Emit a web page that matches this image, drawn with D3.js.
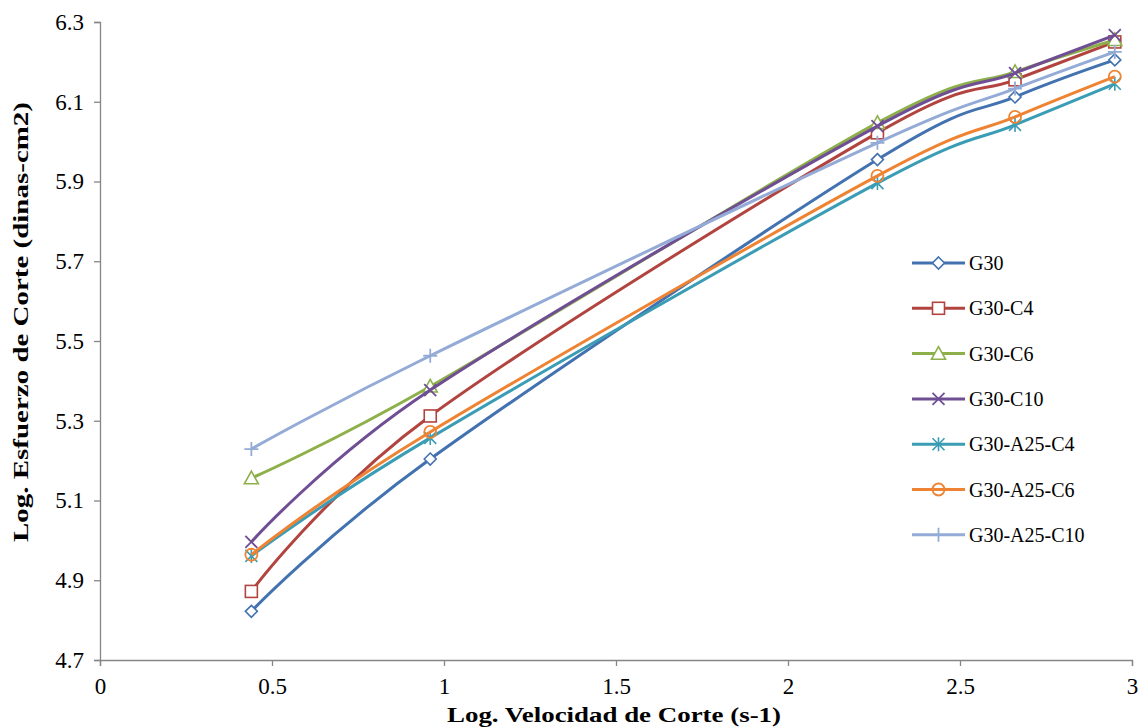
<!DOCTYPE html>
<html>
<head>
<meta charset="utf-8">
<script src="https://cdn.jsdelivr.net/npm/d3@7"></script>
<style>
  body { margin: 0; background: #fff; }
</style>
</head>
<body>
<div id="chart"></div>
<script>
// datos
var xVals = [0.44, 0.96, 2.26, 2.66, 2.95];
var g30      = [4.822, 5.204, 5.955, 6.112, 6.205];
var g30c4    = [4.872, 5.312, 6.022, 6.155, 6.250];
var g30c6    = [5.156, 5.386, 6.047, 6.175, 6.255];
var g30c10   = [4.996, 5.377, 6.039, 6.172, 6.267];
var g30a25c4 = [4.961, 5.257, 5.896, 6.042, 6.145];
var g30a25c6 = [4.964, 5.272, 5.914, 6.062, 6.163];
var g30a25c10 = [5.229, 5.463, 5.997, 6.133, 6.225];
var seriesNames = ["G30", "G30-C4", "G30-C6", "G30-C10", "G30-A25-C4", "G30-A25-C6", "G30-A25-C10"];
var xTicks = [0, 0.5, 1, 1.5, 2, 2.5, 3];
var yTicks = [4.7, 4.9, 5.1, 5.3, 5.5, 5.7, 5.9, 6.1, 6.3];

var colors = ["#4372B0", "#B2443F", "#8DB04A", "#6F4E94", "#3A9CB5", "#EE8433", "#93ABD6"];
var markers = ["diamond", "square", "triangle", "x", "star", "circle", "plus"];
var allVals = [g30, g30c4, g30c6, g30c10, g30a25c4, g30a25c6, g30a25c10];
var FONT = "'Liberation Serif', 'Times New Roman', serif";

var width = 1138, height = 727;
var svg = d3.select("#chart").append("svg")
    .attr("width", width).attr("height", height)
    .attr("font-family", FONT);

var x = d3.scaleLinear().domain([0, 3]).range([100, 1132]);
var y = d3.scaleLinear().domain([4.7, 6.3]).range([660, 22]);

// ejes
var xAxis = svg.append("g")
    .attr("transform", "translate(0," + y(4.7) + ")")
    .call(d3.axisBottom(x).tickValues(xTicks).tickSize(6).tickPadding(12)
        .tickFormat(function (d) { return d; }));
var yAxis = svg.append("g")
    .attr("transform", "translate(" + x(0) + ",0)")
    .call(d3.axisLeft(y).tickValues(yTicks).tickSize(6).tickPadding(10)
        .tickFormat(d3.format(".1f")));
[xAxis, yAxis].forEach(function (ax) {
    ax.attr("font-family", FONT).attr("font-size", 23);
    ax.select(".domain").attr("stroke", "#868686").attr("stroke-width", 1.3);
    ax.selectAll(".tick line").attr("stroke", "#868686").attr("stroke-width", 1.3);
    ax.selectAll(".tick text").attr("fill", "#000");
});
xAxis.selectAll(".tick text").attr("dy", "0.71em");

// títulos
svg.append("text")
    .attr("x", 614).attr("y", 722)
    .attr("text-anchor", "middle")
    .attr("font-size", 22).attr("font-weight", "bold")
    .attr("textLength", 334).attr("lengthAdjust", "spacingAndGlyphs")
    .text("Log. Velocidad de Corte (s-1)");
svg.append("text")
    .attr("transform", "translate(28,322) rotate(-90)")
    .attr("text-anchor", "middle")
    .attr("font-size", 22).attr("font-weight", "bold")
    .attr("textLength", 440).attr("lengthAdjust", "spacingAndGlyphs")
    .text("Log. Esfuerzo de Corte (dinas-cm2)");

var line = d3.line()
    .x(function (d) { return x(d.x); })
    .y(function (d) { return y(d.y); })
    .curve(d3.curveCatmullRom.alpha(0));

function drawMarker(g, type, cx, cy, color) {
    var s;
    if (type === "diamond") {
        s = 6;
        g.append("path").attr("d", "M" + cx + "," + (cy - s) + "L" + (cx + s) + "," + cy + "L" + cx + "," + (cy + s) + "L" + (cx - s) + "," + cy + "Z")
            .attr("fill", "#fff").attr("stroke", color).attr("stroke-width", 1.6);
    } else if (type === "square") {
        s = 6;
        g.append("rect").attr("x", cx - s).attr("y", cy - s).attr("width", 2 * s).attr("height", 2 * s)
            .attr("fill", "#fff").attr("stroke", color).attr("stroke-width", 1.6);
    } else if (type === "triangle") {
        s = 7;
        g.append("path").attr("d", "M" + cx + "," + (cy - s) + "L" + (cx + s) + "," + (cy + s * 0.8) + "L" + (cx - s) + "," + (cy + s * 0.8) + "Z")
            .attr("fill", "#fff").attr("stroke", color).attr("stroke-width", 1.6);
    } else if (type === "x") {
        s = 6;
        g.append("path").attr("d", "M" + (cx - s) + "," + (cy - s) + "L" + (cx + s) + "," + (cy + s) + "M" + (cx + s) + "," + (cy - s) + "L" + (cx - s) + "," + (cy + s))
            .attr("stroke", color).attr("stroke-width", 1.8);
    } else if (type === "star") {
        s = 6;
        g.append("path").attr("d", "M" + (cx - s) + "," + (cy - s) + "L" + (cx + s) + "," + (cy + s) + "M" + (cx + s) + "," + (cy - s) + "L" + (cx - s) + "," + (cy + s) + "M" + cx + "," + (cy - s - 1) + "L" + cx + "," + (cy + s + 1))
            .attr("stroke", color).attr("stroke-width", 1.6);
    } else if (type === "circle") {
        g.append("circle").attr("cx", cx).attr("cy", cy).attr("r", 6)
            .attr("fill", "none").attr("stroke", color).attr("stroke-width", 1.8);
    } else if (type === "plus") {
        s = 7;
        g.append("path").attr("d", "M" + (cx - s) + "," + cy + "L" + (cx + s) + "," + cy + "M" + cx + "," + (cy - s) + "L" + cx + "," + (cy + s))
            .attr("stroke", color).attr("stroke-width", 1.8);
    }
}

// series
allVals.forEach(function (vals, i) {
    var pts = xVals.map(function (xv, j) { return { x: xv, y: vals[j] }; });
    var g = svg.append("g");
    g.append("path").datum(pts)
        .attr("d", line)
        .attr("fill", "none")
        .attr("stroke", colors[i])
        .attr("stroke-width", 3);
    pts.forEach(function (p) {
        drawMarker(g, markers[i], x(p.x), y(p.y), colors[i]);
    });
});

// leyenda
var legend = svg.append("g");
seriesNames.forEach(function (name, i) {
    var ly = 263 + i * 45.3;
    legend.append("line")
        .attr("x1", 912).attr("x2", 965).attr("y1", ly).attr("y2", ly)
        .attr("stroke", colors[i]).attr("stroke-width", 3);
    drawMarker(legend, markers[i], 938.5, ly, colors[i]);
    legend.append("text")
        .attr("x", 969).attr("y", ly).attr("dy", "0.35em")
        .attr("font-size", 20)
        .text(name);
});
</script>
</body>
</html>
